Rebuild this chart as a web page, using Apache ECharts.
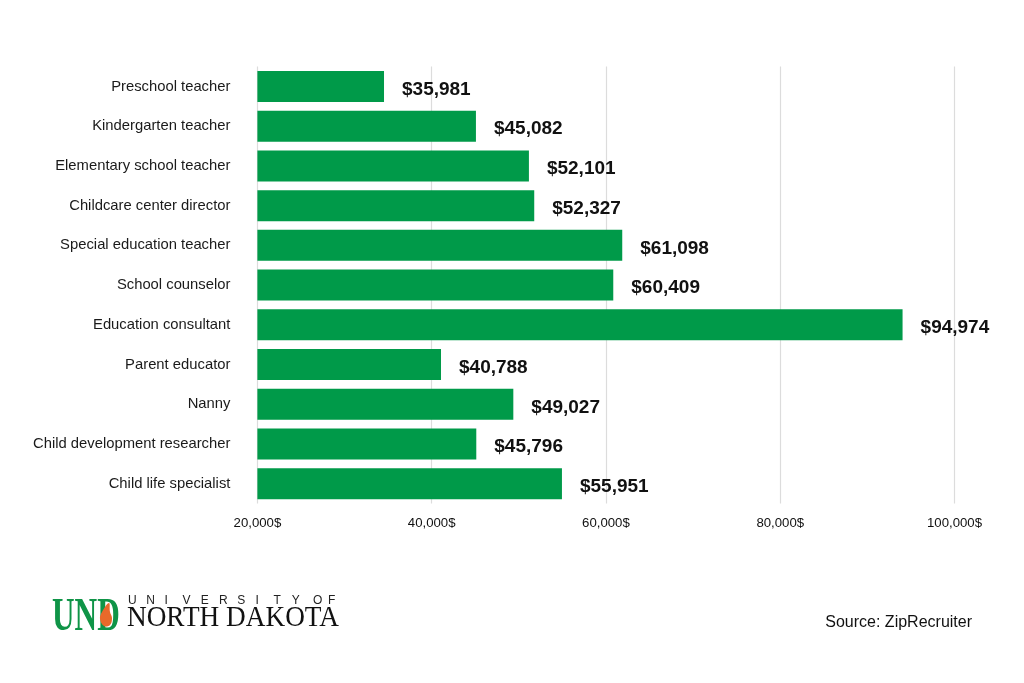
<!DOCTYPE html>
<html>
<head>
<meta charset="utf-8">
<script src="https://cdn.jsdelivr.net/npm/echarts@6/dist/echarts.min.js"></script>
<style>
html,body{margin:0;padding:0;background:#fff;}
#chart{width:1024px;height:683px;}
</style>
</head>
<body>
<div id="chart"></div>
<script>
// Categories (top to bottom)
const categories = [
  "Preschool teacher",
  "Kindergarten teacher",
  "Elementary school teacher",
  "Childcare center director",
  "Special education teacher",
  "School counselor",
  "Education consultant",
  "Parent educator",
  "Nanny",
  "Child development researcher",
  "Child life specialist"
];
// Bar lengths as drawn in the picture (USD)
const barValues = [34530, 45080, 51160, 51770, 61870, 60840, 94040, 41070, 49370, 45120, 54950];
// Salary labels printed next to the bars (USD)
const labelValues = [35981, 45082, 52101, 52327, 61098, 60409, 94974, 40788, 49027, 45796, 55951];
// Axis ticks
const axisMin = 20000, axisMax = 100000, axisStep = 20000;

const fmt = v => v.toLocaleString('en-US');

const chart = echarts.init(document.getElementById('chart'));
const logoLetters = "UNIVERSITY".split("");
const graphics = [
  {type:'text', x:52, y:595, scaleX:0.68, style:{text:'UND', font:'bold 46px "Liberation Serif"', fill:'#0f9447'}},
  {type:'polygon', shape:{points:[[109,603],[102,612],[100,619],[104,626],[110,625],[112,618],[110,612]], smooth:0.4}, style:{fill:'#e8692a'}},
  {type:'text', x:127, y:604, scaleX:0.94, style:{text:'NORTH DAKOTA', font:'29px "Liberation Serif"', fill:'#111'}},
  ...logoLetters.map((ch,i)=>({type:'text', x:128 + i*18.2, y:595, style:{text:ch, font:'12px "Liberation Sans"', fill:'#222'}})),
  {type:'text', x:313, y:595, style:{text:'O', font:'12px "Liberation Sans"', fill:'#222'}},
  {type:'text', x:328, y:595, style:{text:'F', font:'12px "Liberation Sans"', fill:'#222'}},
  {type:'text', x:972, y:623, style:{text:'Source: ZipRecruiter', font:'16px "Liberation Sans"', fill:'#111', align:'right', verticalAlign:'middle'}}
];

chart.setOption({
  backgroundColor:'#ffffff',
  animation:false,
  grid:{left:257.4, right:1024-954.5, top:66.6, height:437, containLabel:false},
  xAxis:{
    type:'value', min:axisMin, max:axisMax, interval:axisStep,
    axisLine:{show:false}, axisTick:{show:false},
    splitLine:{show:true, lineStyle:{color:'#dcdcdc', width:1.2}},
    axisLabel:{formatter:v=>fmt(v)+'$', fontFamily:'Liberation Sans', fontSize:13.2, color:'#111', margin:13}
  },
  yAxis:{
    type:'category', data:categories, inverse:true,
    axisLine:{show:false}, axisTick:{show:false},
    axisLabel:{fontFamily:'Liberation Sans', fontSize:14.8, color:'#1a1a1a', margin:27, verticalAlign:'middle', padding:[0,0,3,0]}
  },
  series:[{
    type:'bar',
    data:barValues,
    barWidth:31,
    itemStyle:{color:'#009a49'},
    label:{
      show:true, position:'right', distance:18, offset:[0,3],
      formatter:p=>'$'+fmt(labelValues[p.dataIndex]),
      fontFamily:'Liberation Sans', fontWeight:'bold', fontSize:19, color:'#111'
    }
  }],
  graphic:graphics
});
</script>
</body>
</html>
